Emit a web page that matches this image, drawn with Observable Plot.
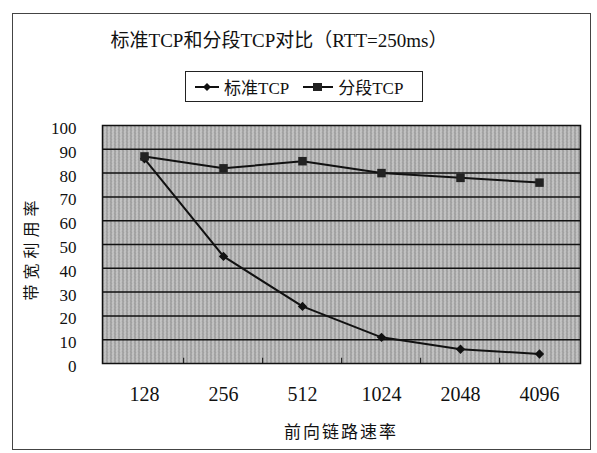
<!DOCTYPE html>
<html>
<head>
<meta charset="utf-8">
<script src="https://cdn.jsdelivr.net/npm/d3@7"></script>
<script src="https://cdn.jsdelivr.net/npm/@observablehq/plot@0.6"></script>
<style>
  html, body { margin: 0; padding: 0; background: #fff; }
  #wrap { position: relative; width: 597px; height: 453px; overflow: hidden; background: #fff;
          font-family: "Liberation Serif", "Noto Sans CJK SC", serif; color: #111; }
  #border { position: absolute; left: 12px; top: 13px; width: 579px; height: 437px; border: 1px solid #444; box-sizing: border-box; }
  #title { position: absolute; left: 0; width: 558px; top: 30px; text-align: center; font-size: 19px; line-height: 22px; white-space: nowrap; }
  #legend { position: absolute; left: 185px; top: 71px; width: 238px; height: 31px; border: 1px solid #222; box-sizing: border-box;
            display: flex; align-items: center; font-size: 17px; white-space: nowrap; }
  #legend .item { display: flex; align-items: center; }
  #ylabel { position: absolute; left: 30px; top: 248px; transform: translate(-50%, -50%) rotate(-90deg);
            font-size: 16px; letter-spacing: 5px; white-space: nowrap; font-family: "Noto Sans CJK SC", sans-serif; }
  #xlabel { position: absolute; left: 102px; width: 478px; top: 418px; text-align: center; font-size: 17px; letter-spacing: 2px; font-family: "Noto Sans CJK SC", sans-serif; }
  #chart { position: absolute; left: 0; top: 0; }
</style>
</head>
<body>
<div id="wrap">
  <div id="border"></div>
  <div id="chart"></div>
  <div id="title">标准TCP和分段TCP对比（RTT=250ms）</div>
  <div id="legend"></div>
  <div id="ylabel">带宽利用率</div>
  <div id="xlabel">前向链路速率</div>
</div>
<script>
const categories = ["128", "256", "512", "1024", "2048", "4096"];
const seriesNames = ["标准TCP", "分段TCP"];
const standardTCP = [86, 45, 24, 11, 6, 4];
const segmentedTCP = [87, 82, 85, 80, 78, 76];
const yTicks = [0, 10, 20, 30, 40, 50, 60, 70, 80, 90, 100];

const stdRows = categories.map((c, i) => ({x: c, y: standardTCP[i], s: seriesNames[0]}));
const segRows = categories.map((c, i) => ({x: c, y: segmentedTCP[i], s: seriesNames[1]}));

const W = 597, H = 453, mL = 102, mR = 17, mT = 125, mB = 90;
const step = (W - mL - mR) / categories.length;

function defs() {
  const ns = "http://www.w3.org/2000/svg";
  const d = document.createElementNS(ns, "defs");
  d.innerHTML = `
    <pattern id="hatch" width="4" height="3" patternUnits="userSpaceOnUse">
      <rect width="4" height="3" fill="#ababab"/>
      <rect x="0" width="1" height="3" fill="#cdcdcd"/>
      <rect x="2" width="1" height="3" fill="#959595"/>
      <rect x="1" y="1" width="1" height="1" fill="#bdbdbd"/>
      <rect x="3" y="2" width="1" height="1" fill="#c4c4c4"/>
    </pattern>`;
  return d;
}

const chart = Plot.plot({
  width: W, height: H,
  marginLeft: mL, marginRight: mR, marginTop: mT, marginBottom: mB,
  style: {background: "transparent", fontFamily: "'Liberation Serif', serif", color: "#111"},
  x: {type: "point", domain: categories, padding: 0.5, label: null},
  y: {domain: [0, 100], label: null},
  marks: [
    defs,
    Plot.frame({fill: "url(#hatch)"}),
    Plot.ruleY(yTicks.filter(t => t > 0 && t < 100), {stroke: "#111", strokeWidth: 1.5}),
    Plot.ruleX(categories.slice(1), {x: d => d, dx: -step / 2, y1: 0, y2: 2.2, stroke: "#111", strokeWidth: 1}),
    Plot.line(stdRows, {x: "x", y: "y", stroke: "#111", strokeWidth: 2}),
    Plot.line(segRows, {x: "x", y: "y", stroke: "#111", strokeWidth: 2}),
    Plot.dot(stdRows, {x: "x", y: "y", symbol: "diamond2", r: 4.2, fill: "#111", stroke: null}),
    Plot.dot(segRows, {x: "x", y: "y", symbol: "square", r: 4.8, fill: "#222", stroke: null}),
    Plot.frame({stroke: "#111", strokeWidth: 1.5}),
    Plot.axisY({ticks: yTicks, tickSize: 0, tickPadding: 26, dy: 3, fontSize: 17, label: null}),
    Plot.axisX({tickSize: 0, tickPadding: 23, fontSize: 20, label: null})
  ]
});
document.getElementById("chart").appendChild(chart);

// legend
const legend = document.getElementById("legend");
const symbols = [
  `<svg width="24" height="10"><line x1="0" y1="5" x2="24" y2="5" stroke="#111" stroke-width="2"/><path d="M12,1L16,5L12,9L8,5Z" fill="#111"/></svg>`,
  `<svg width="30" height="10"><line x1="0" y1="5" x2="30" y2="5" stroke="#111" stroke-width="2"/><rect x="10" y="1" width="9" height="8" fill="#222"/></svg>`
];
seriesNames.forEach((name, i) => {
  const it = document.createElement("div");
  it.className = "item";
  it.style.marginLeft = i === 0 ? "9px" : "14px";
  it.innerHTML = symbols[i] + `<span style="margin-left:5px">${name}</span>`;
  legend.appendChild(it);
});
</script>
</body>
</html>
